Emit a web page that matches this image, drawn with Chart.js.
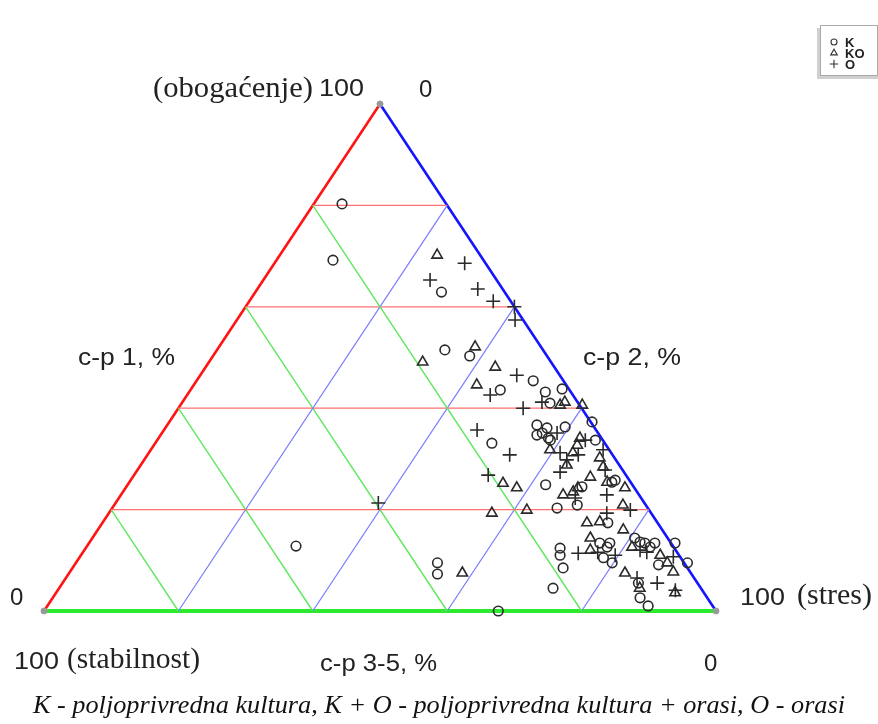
<!DOCTYPE html>
<html>
<head>
<meta charset="utf-8">
<script src="https://cdn.jsdelivr.net/npm/chart.js@4.4.1/dist/chart.umd.min.js"></script>
<style>
html,body{margin:0;padding:0;background:#fff;}
#wrap{position:relative;width:878px;height:724px;}
</style>
</head>
<body>
<div id="wrap"><canvas id="c" width="878" height="724"></canvas></div>
<script>
// Ternary data: cp1 = c-p 1 % (obogaćenje), cp2 = c-p 2 % (stres), cp35 = c-p 3-5 % (stabilnost)
const K_cp1 = [80.3,69.2,62.9,51.5,50.3,43.6,45.4,43.2,43.8,41.0,37.3,33.1,36.7,36.1,35.1,34.1,34.7,36.3,33.7,24.9,24.5,25.8,20.9,20.3,17.4,12.4,11.0,13.4,12.6,13.4,10.5,9.5,8.5,4.5,14.4,13.6,13.4,12.6,13.4,9.1,13.4,9.5,5.5,2.6,1.0,9.5,7.3,12.8,0.0,25.4,33.7];
const K_cp2 = [4.2,8.4,27.7,33.9,38.2,46.1,50.1,53.0,55.2,54.8,62.9,50.1,55.0,56.8,56.6,58.0,56.0,59.4,65.2,62.2,67.8,72.1,68.9,66.2,75.2,70.6,71.3,76.0,77.5,77.5,78.0,79.8,73.0,73.5,80.7,81.9,82.7,83.9,84.2,86.9,87.2,91.0,85.7,87.4,89.4,53.8,54.9,31.1,67.6,71.8,58.5];

const KO_cp1 = [70.2,49.1,52.1,48.1,44.6,40.6,41.2,40.6,32.7,31.8,31.2,28.8,30.2,28.4,25.2,24.3,26.4,23.5,24.3,22.9,20.9,19.9,19.3,25.4,17.4,17.6,16.0,14.4,12.0,12.6,11.0,9.5,7.7,7.5,4.5,3.6,7.5,24.3,34.1];
const KO_cp2 = [23.4,31.8,38.1,43.1,42.1,56.5,56.9,59.8,63.0,59.4,63.1,63.4,67.6,69.0,55.7,58.2,68.1,67.0,74.3,65.8,75.7,61.9,57.0,71.1,72.1,73.9,78.2,74.1,75.3,81.2,86.2,88.0,89.8,82.7,86.4,92.1,58.5,67.3,62.7];

const O_cp1 = [68.6,65.3,63.5,61.1,60.0,57.4,46.5,42.6,41.2,40.0,35.7,30.8,35.1,31.2,29.8,30.8,27.4,31.8,27.8,26.8,22.3,22.9,19.9,19.3,11.4,11.6,11.0,12.0,11.6,10.7,6.5,5.5,4.1,21.3,33.7];
const O_cp2 = [28.3,24.8,32.8,36.3,40.0,41.4,47.1,45.1,53.5,51.3,46.6,53.9,58.8,61.2,62.9,64.1,63.1,67.3,69.6,52.7,67.9,72.3,77.3,74.1,73.8,76.6,79.5,82.7,83.9,88.3,85.0,88.5,91.9,39.1,63.7];

const gridLevels = [20, 40, 60, 80];
const seriesNames = ['K', 'KO', 'O'];
const footerText = 'K - poljoprivredna kultura, K + O - poljoprivredna kultura + orasi, O - orasi';

// ternary -> cartesian (x = cp2 + cp1/2, y = cp1), plotted through Chart.js linear scales
function tern(cp1, cp2) { return { x: cp2 + cp1 / 2, y: cp1 }; }
function pts(a, b) { return a.map((v, i) => tern(v, b[i])); }

const lineDs = (data, color, width) => ({
  type: 'line', data, borderColor: color, borderWidth: width, pointRadius: 0,
  showLine: true, fill: false, tension: 0, clip: false, order: 5
});

const datasets = [];
gridLevels.forEach(v => {
  datasets.push(lineDs([tern(v, 0), tern(v, 100 - v)], '#ff7070', 1.2));         // const c-p 1
  datasets.push(lineDs([tern(100 - v, 0), tern(0, 100 - v)], '#5fe85f', 1.4));   // const c-p 3-5
  datasets.push(lineDs([tern(0, v), tern(100 - v, v)], '#7a7aff', 1.2));         // const c-p 2
});
datasets.push(lineDs([tern(0, 0), tern(100, 0)], '#ff1414', 2.6));
datasets.push(lineDs([tern(100, 0), tern(0, 100)], '#1414ff', 2.6));
datasets.push(lineDs([tern(0, 0), tern(0, 100)], '#2eea2e', 4));
datasets.push({ type: 'scatter', data: [tern(100, 0), tern(0, 0), tern(0, 100)], pointRadius: 3,
  pointBackgroundColor: '#999', pointBorderColor: '#999', clip: false, order: 4 });

const mk = (name, data, style, r) => ({
  type: 'scatter', label: name, data, pointStyle: style, pointRadius: r,
  pointBorderColor: '#2a2a2a', pointBackgroundColor: 'rgba(0,0,0,0)', pointBorderWidth: 1.6,
  clip: false, order: 1
});
datasets.push(mk(seriesNames[0], pts(K_cp1, K_cp2), 'circle', 4.8));
datasets.push(mk(seriesNames[1], pts(KO_cp1, KO_cp2), 'triangle', 6));
datasets.push(mk(seriesNames[2], pts(O_cp1, O_cp2), 'cross', 7));

function drawFit(ctx, txt, font, x, base, w) {
  ctx.font = font;
  const m = ctx.measureText(txt).width;
  ctx.save();
  ctx.translate(x, base);
  ctx.scale(w ? w / m : 1, 1);
  ctx.fillText(txt, 0, 0);
  ctx.restore();
}

const SANS = '"Liberation Sans", Arial, sans-serif';
const SERIF = '"Liberation Serif", "Times New Roman", serif';

const labelsPlugin = {
  id: 'ternLabels',
  afterDraw(chart) {
    const ctx = chart.ctx;
    ctx.save();
    ctx.fillStyle = '#222';
    ctx.textBaseline = 'alphabetic';
    ctx.textAlign = 'left';
    drawFit(ctx, '(obogaćenje)', '29px ' + SERIF, 153, 97, 160);
    drawFit(ctx, '100', '24px ' + SANS, 319, 96, 45);
    drawFit(ctx, '0', '24px ' + SANS, 419, 97, 0);
    drawFit(ctx, 'c-p 1, %', '24px ' + SANS, 78, 365, 97);
    drawFit(ctx, 'c-p 2, %', '24px ' + SANS, 583, 365, 98);
    drawFit(ctx, '0', '24px ' + SANS, 10, 605, 0);
    drawFit(ctx, '100', '24px ' + SANS, 740, 605, 45);
    drawFit(ctx, '(stres)', '29px ' + SERIF, 797, 604, 75);
    drawFit(ctx, '100', '24px ' + SANS, 14, 669, 45);
    drawFit(ctx, '(stabilnost)', '29px ' + SERIF, 67, 668, 133);
    drawFit(ctx, 'c-p 3-5, %', '24px ' + SANS, 320, 671, 117);
    drawFit(ctx, '0', '24px ' + SANS, 704, 671, 0);
    ctx.fillStyle = '#111';
    drawFit(ctx, footerText, 'italic 25px ' + SERIF, 33, 713, 812);

    // legend box
    ctx.fillStyle = '#d0d0d0';
    ctx.fillRect(817, 28, 61, 51);
    ctx.fillStyle = '#fff';
    ctx.fillRect(820, 25, 57, 50);
    ctx.strokeStyle = '#aaa';
    ctx.lineWidth = 1;
    ctx.strokeRect(820.5, 25.5, 57, 50);
    const ys = [42, 53, 64];
    const styles = ['circle', 'triangle', 'cross'];
    const rs = [3, 3.8, 4.2];
    ys.forEach((y, i) => {
      ctx.strokeStyle = '#333';
      ctx.fillStyle = 'rgba(0,0,0,0)';
      ctx.lineWidth = 1.1;
      Chart.helpers.drawPoint(ctx, { pointStyle: styles[i], radius: rs[i], borderWidth: 1.1 }, 834, y);
      ctx.fillStyle = '#222';
      ctx.font = 'bold 13px ' + SANS;
      ctx.fillText(seriesNames[i], 845, y + 5);
    });
    ctx.restore();
  }
};

new Chart(document.getElementById('c'), {
  type: 'scatter',
  data: { datasets },
  options: {
    responsive: false,
    animation: false,
    events: [],
    layout: { padding: { left: 44, right: 162, top: 104, bottom: 113 } },
    scales: {
      x: { type: 'linear', min: 0, max: 100, display: false },
      y: { type: 'linear', min: 0, max: 100, display: false }
    },
    plugins: { legend: { display: false }, tooltip: { enabled: false } }
  },
  plugins: [labelsPlugin]
});
</script>
</body>
</html>
